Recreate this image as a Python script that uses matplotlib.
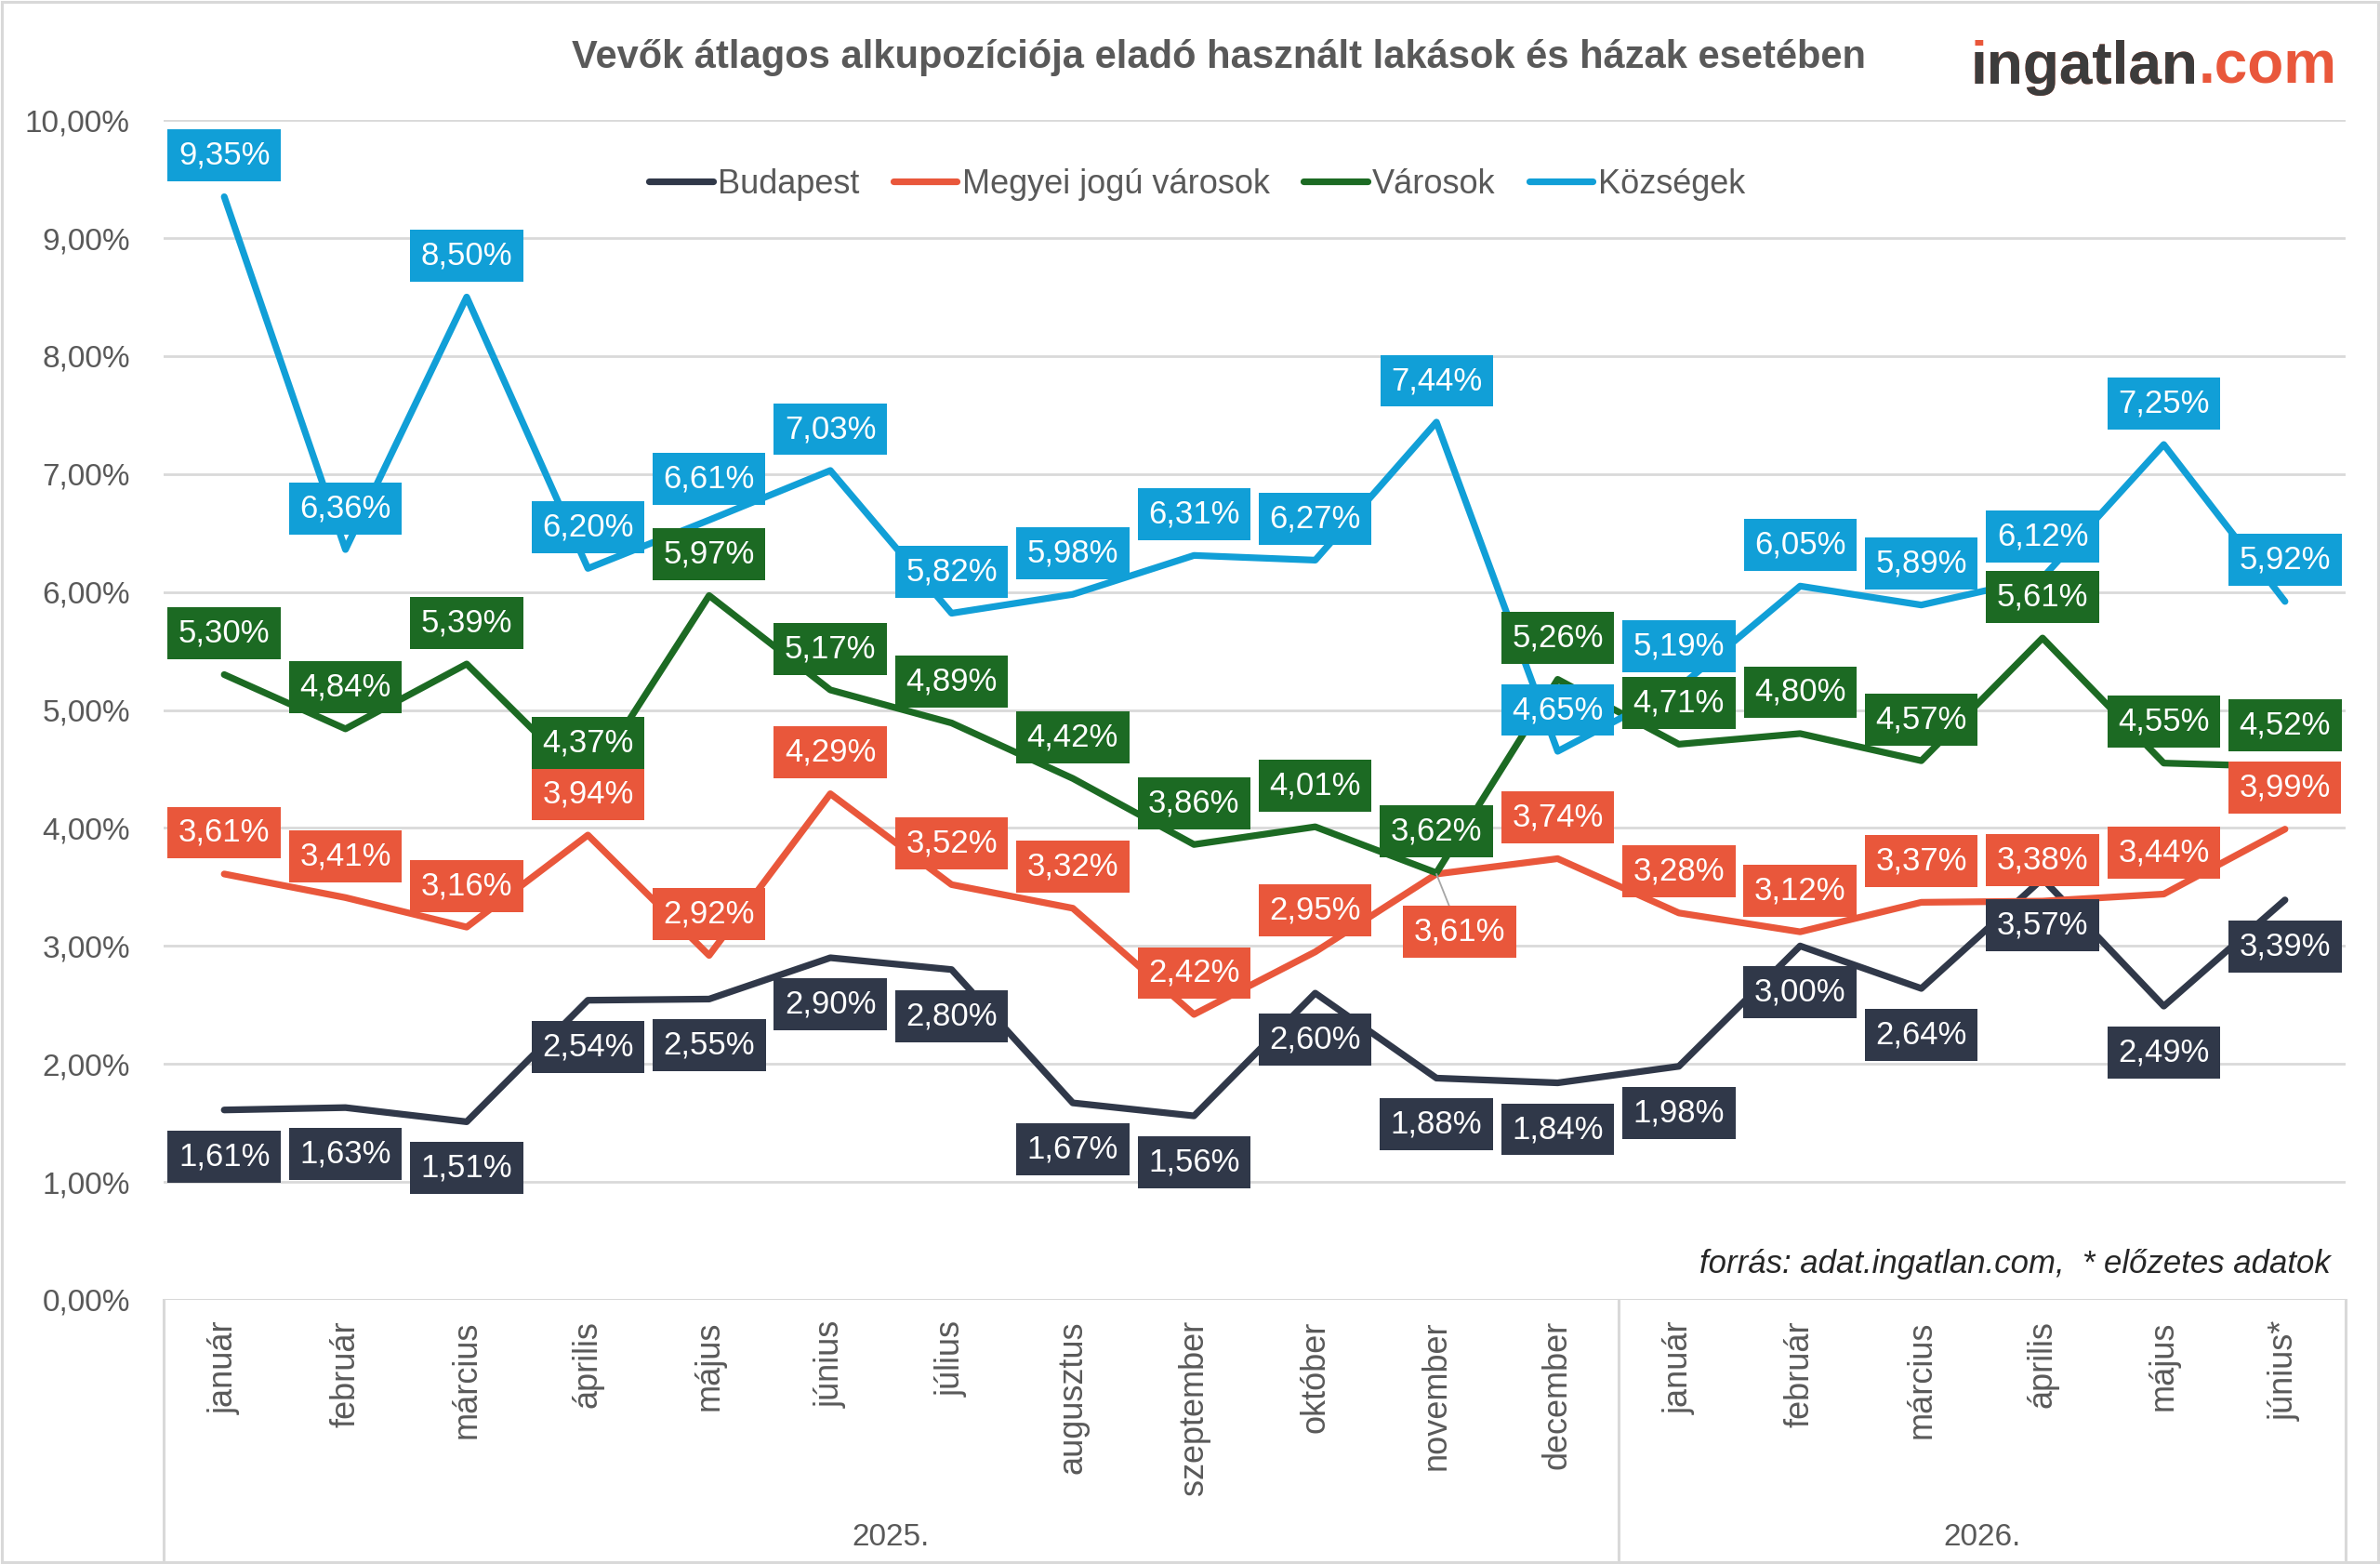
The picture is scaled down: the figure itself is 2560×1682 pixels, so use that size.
import matplotlib.pyplot as plt
import matplotlib.transforms as mtransforms
from matplotlib.lines import Line2D
from matplotlib.patches import Rectangle
from matplotlib.ticker import FuncFormatter

honapok = ["január", "február", "március", "április", "május", "június", "július",
           "augusztus", "szeptember", "október", "november", "december",
           "január", "február", "március", "április", "május", "június*"]
evek = ["2025.", "2026."]
evek_honapszam = [12, 6]

budapest = [1.61, 1.63, 1.51, 2.54, 2.55, 2.90, 2.80, 1.67, 1.56, 2.60, 1.88, 1.84,
            1.98, 3.00, 2.64, 3.57, 2.49, 3.39]
megyei = [3.61, 3.41, 3.16, 3.94, 2.92, 4.29, 3.52, 3.32, 2.42, 2.95, 3.61, 3.74,
          3.28, 3.12, 3.37, 3.38, 3.44, 3.99]
varosok = [5.30, 4.84, 5.39, 4.37, 5.97, 5.17, 4.89, 4.42, 3.86, 4.01, 3.62, 5.26,
           4.71, 4.80, 4.57, 5.61, 4.55, 4.52]
kozsegek = [9.35, 6.36, 8.50, 6.20, 6.61, 7.03, 5.82, 5.98, 6.31, 6.27, 7.44, 4.65,
            5.19, 6.05, 5.89, 6.12, 7.25, 5.92]

sorozatok = [
    ("Budapest", budapest, "#303849", -1),
    ("Megyei jogú városok", megyei, "#E9573B", 1),
    ("Városok", varosok, "#1C6A23", 1),
    ("Községek", kozsegek, "#119FD7", 1),
]

SZURKE = "#595959"
RACS = "#D9D9D9"

plt.rcParams["font.family"] = ["Liberation Sans", "DejaVu Sans"]

fig = plt.figure(figsize=(25.6, 16.82), dpi=100)
ax = fig.add_axes([176 / 2560, 284 / 1682, (2523 - 176) / 2560, (1553 - 284) / 1682])

x = list(range(len(honapok)))
for nev, ertekek, szin, irany in sorozatok:
    ax.plot(x, ertekek, color=szin, lw=5.2, label=nev, zorder=3,
            solid_capstyle="round", solid_joinstyle="round")

# adatcimkek
for nev, ertekek, szin, irany in sorozatok:
    for i, v in enumerate(ertekek):
        szoveg = f"{v:.2f}".replace(".", ",") + "%"
        dx, dy = 0, (32 if irany > 0 else -36)
        nyil = None
        if nev == "Megyei jogú városok" and i == 10:
            dx, dy = 18, -45
            nyil = dict(arrowstyle="-", color="#A6A6A6", lw=1.3, shrinkA=0, shrinkB=0)
        ax.annotate(szoveg, (i, v), xytext=(dx, dy), textcoords="offset points",
                    ha="center", va="center", fontsize=25, color="white",
                    bbox=dict(boxstyle="square,pad=0.33", fc=szin, ec="none"),
                    arrowprops=nyil, zorder=5)

ax.set_xlim(-0.5, len(honapok) - 0.5)
ax.set_ylim(0, 10.001)
ax.set_yticks(range(0, 11))
ax.yaxis.set_major_formatter(FuncFormatter(lambda v, p: f"{v:.2f}".replace(".", ",") + "%"))
ax.grid(axis="y", color=RACS, lw=2)
ax.set_axisbelow(True)
for s in ax.spines.values():
    s.set_visible(False)
ax.tick_params(axis="y", length=0, pad=26, labelsize=24, labelcolor=SZURKE)
ax.set_xticks(x)
ax.set_xticklabels(honapok, rotation=90, va="top", ha="center")
ax.tick_params(axis="x", length=0, pad=16, labelsize=26, labelcolor=SZURKE)

# kategoria tengely doboz
tr = mtransforms.blended_transform_factory(ax.transData, fig.transFigure)
ax.axhline(0, color=RACS, lw=2.2, zorder=1)
also = 284 / 1682
kezd = -0.5
for ev, db in zip(evek, evek_honapszam):
    fig.add_artist(Line2D([kezd, kezd], [also, 0.002], transform=tr, color=RACS, lw=2.2))
    fig.text(kezd + db / 2, 1 - 1654 / 1682, ev, transform=tr, ha="center", va="center",
             fontsize=24, color=SZURKE)
    kezd += db
fig.add_artist(Line2D([kezd, kezd], [also, 0.002], transform=tr, color=RACS, lw=2.2))

# jelmagyarazat
fig.legend(loc="center", bbox_to_anchor=(0.503, 1 - 198 / 1682), ncol=4, frameon=False,
           fontsize=26, labelcolor=SZURKE, handlelength=1.9, handletextpad=0.15,
           columnspacing=1.0)

# cim
fig.text(0.512, 1 - 62 / 1682, "Vevők átlagos alkupozíciója eladó használt lakások és házak esetében",
         ha="center", va="center", fontsize=30, fontweight="bold", color=SZURKE)

# forras
fig.text(2507 / 2560, 1 - 1360 / 1682, "forrás: adat.ingatlan.com,  * előzetes adatok",
         ha="right", va="center", fontsize=25, style="italic", color="#262626")

# logo
logo_y = 1 - 90 / 1682
com = fig.text(2514 / 2560, logo_y, ".com", ha="right", va="baseline", fontsize=46,
               fontweight="bold", color="#E9573B")
fig.canvas.draw()
bb = com.get_window_extent()
lx = bb.x0 / fig.bbox.width
fig.text(lx, logo_y, "ingatlan", ha="right", va="baseline", fontsize=46,
         fontweight="bold", color="#E9573B")
fig.text(lx, logo_y, "\u0131ngatlan", ha="right", va="baseline", fontsize=46,
         fontweight="bold", color="#3C3C3C")

# keret
fig.add_artist(Rectangle((0.0006, 0.0009), 0.9988, 0.9982, transform=fig.transFigure,
                         fill=False, ec=RACS, lw=2.2))

fig.savefig("out.png", dpi=100)
